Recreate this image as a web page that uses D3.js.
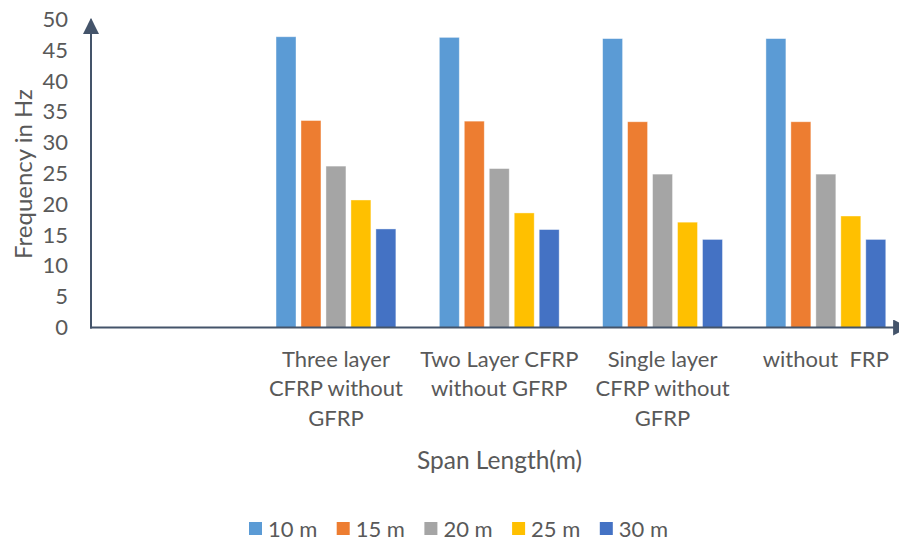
<!DOCTYPE html>
<html>
<head>
<meta charset="utf-8">
<script src="https://cdn.jsdelivr.net/npm/d3@7"></script>
<style>
  html, body { margin: 0; padding: 0; background: #ffffff; }
  svg { display: block; }
  text { font-family: Lato, "Open Sans", sans-serif; fill: #595959; }
</style>
</head>
<body>
<svg id="chart" width="899" height="539"></svg>
<script>
// Categories (the first slot is left empty on the axis)
const categories = ["", "Three layer CFRP without GFRP", "Two Layer CFRP without GFRP", "Single layer CFRP without GFRP", "without  FRP"];
// Wrapped tick labels for each category
const categoryLines = [
  [],
  ["Three layer", "CFRP without", "GFRP"],
  ["Two Layer CFRP", "without GFRP"],
  ["Single layer", "CFRP without", "GFRP"],
  ["without  FRP"]
];
// Span lengths (series)
const seriesNames = ["10 m", "15 m", "20 m", "25 m", "30 m"];
const seriesColors = ["#5B9BD5", "#ED7D31", "#A5A5A5", "#FFC000", "#4472C4"];
// Natural frequency (Hz) per category, one value per span length
const values10 = [null, 47.2, 47.1, 46.9, 46.9];
const values15 = [null, 33.6, 33.5, 33.4, 33.4];
const values20 = [null, 26.2, 25.8, 24.9, 24.9];
const values25 = [null, 20.7, 18.6, 17.1, 18.1];
const values30 = [null, 16.0, 15.9, 14.3, 14.3];
const yTicks = [0, 5, 10, 15, 20, 25, 30, 35, 40, 45, 50];

const seriesValues = [values10, values15, values20, values25, values30];

const svg = d3.select("#chart");
const axisColor = "#44546A";
const fontSize = 22;

const x0 = d3.scaleBand().domain(categories).range([91, 907.5]).padding(0);
const x1 = d3.scaleBand().domain(seriesNames).range([0, x0.bandwidth()])
  .paddingInner(0.2).paddingOuter(0.87);
const y = d3.scaleLinear().domain([0, 50]).range([327.5, 19.5]);

// Arrowhead markers for the axes
const defs = svg.append("defs");
defs.append("marker")
  .attr("id", "arrow")
  .attr("viewBox", "0 0 10 10")
  .attr("refX", 9).attr("refY", 5)
  .attr("markerUnits", "userSpaceOnUse")
  .attr("markerWidth", 16).attr("markerHeight", 16)
  .attr("orient", "auto")
  .append("path")
  .attr("d", "M0,0 L10,5 L0,10 Z")
  .attr("fill", axisColor);

// Bars
const rows = categories.map((c, i) => ({
  category: c,
  items: seriesNames.map((s, k) => ({ series: s, k, value: seriesValues[k][i] }))
    .filter(d => d.value != null)
}));

svg.append("g").selectAll("g")
  .data(rows)
  .join("g")
  .attr("transform", d => `translate(${x0(d.category)},0)`)
  .selectAll("rect")
  .data(d => d.items)
  .join("rect")
  .attr("x", d => x1(d.series))
  .attr("width", x1.bandwidth())
  .attr("y", d => y(d.value))
  .attr("height", d => y(0) - y(d.value))
  .attr("fill", d => seriesColors[d.k])
  .attr("stroke", "#ffffff")
  .attr("stroke-opacity", 0.5)
  .attr("stroke-width", 0.8);

// Y axis tick labels
const yAxis = d3.axisLeft(y).tickValues(yTicks).tickSize(0).tickPadding(0);
const gy = svg.append("g").attr("transform", "translate(68,0)").call(yAxis);
gy.select(".domain").remove();
gy.selectAll("text")
  .attr("font-size", fontSize)
  .attr("fill", "#595959")
  .attr("font-family", "Lato, 'Open Sans', sans-serif");

// Axis lines with arrows
svg.append("line")
  .attr("x1", 91).attr("x2", 91)
  .attr("y1", y(0) + 1).attr("y2", y(50))
  .attr("stroke", axisColor).attr("stroke-width", 2)
  .attr("marker-end", "url(#arrow)");
svg.append("line")
  .attr("x1", 90).attr("x2", x0.range()[1])
  .attr("y1", y(0)).attr("y2", y(0))
  .attr("stroke", axisColor).attr("stroke-width", 2)
  .attr("marker-end", "url(#arrow)");

// Category labels
const catG = svg.append("g");
categories.forEach((c, i) => {
  const t = catG.append("text")
    .attr("x", x0(c) + x0.bandwidth() / 2)
    .attr("y", 358)
    .attr("text-anchor", "middle")
    .attr("font-size", fontSize)
    .style("white-space", "pre");
  categoryLines[i].forEach((line, j) => {
    t.append("tspan")
      .attr("x", x0(c) + x0.bandwidth() / 2)
      .attr("y", 358 + j * 29.5)
      .attr("dominant-baseline", "central")
      .text(line);
  });
});

// Axis titles
svg.append("text")
  .attr("x", 499.5).attr("y", 459)
  .attr("text-anchor", "middle")
  .attr("dominant-baseline", "central")
  .attr("font-size", 24.5)
  .text("Span Length(m)");

svg.append("text")
  .attr("transform", "translate(22,174) rotate(-90)")
  .attr("text-anchor", "middle")
  .attr("dominant-baseline", "central")
  .attr("font-size", 24)
  .text("Frequency in Hz");

// Legend
const legendX = d3.scaleBand().domain(seriesNames).range([249, 249 + 5 * 87.7]);
const legend = svg.append("g").selectAll("g")
  .data(seriesNames)
  .join("g")
  .attr("transform", d => `translate(${legendX(d)},528.5)`);
legend.append("rect")
  .attr("x", 0).attr("y", -6.5)
  .attr("width", 13).attr("height", 13)
  .attr("fill", (d, i) => seriesColors[i]);
legend.append("text")
  .attr("x", 19).attr("y", 0)
  .attr("dominant-baseline", "central")
  .attr("font-size", fontSize)
  .text(d => d);
</script>
</body>
</html>
